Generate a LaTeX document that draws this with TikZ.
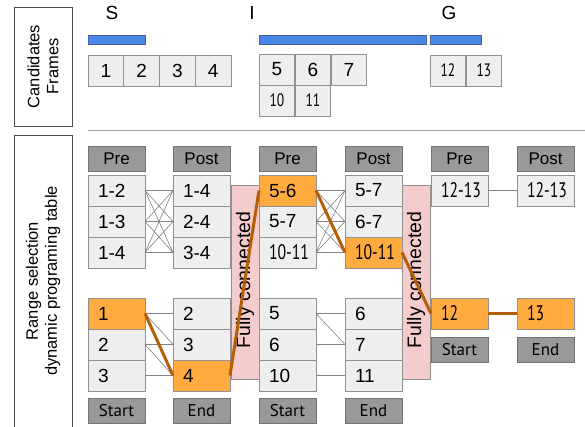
\documentclass[tikz,border=0pt]{standalone}
\usepackage{fontspec}
\usepackage{graphicx}
\setmainfont{Liberation Sans}
\newfontfamily\ptfont{PT Sans}
\newcommand\fsz[1]{\fontsize{#1}{#1}\selectfont}
\newcommand\cnd[1]{{\ptfont\fsz{21}\scalebox{0.75}[1]{#1}}}
\newcommand\cndsm[1]{{\ptfont\fsz{18}\scalebox{0.75}[1]{#1}}}
\definecolor{cellfill}{RGB}{238,238,238}
\definecolor{cellline}{RGB}{145,145,145}
\definecolor{hdrfill}{RGB}{153,153,153}
\definecolor{hdrline}{RGB}{115,115,115}
\definecolor{orfill}{RGB}{255,171,64}
\definecolor{orline}{RGB}{180,95,6}
\definecolor{pinkfill}{RGB}{244,204,204}
\definecolor{bluefill}{RGB}{74,134,232}
\definecolor{blueline}{RGB}{70,100,160}
\definecolor{linkgray}{RGB}{130,130,130}
\definecolor{sepgray}{RGB}{160,160,160}
\tikzset{
 base/.style={draw=cellline, line width=0.8pt, inner sep=0pt, outer sep=0pt, anchor=north west},
 cell/.style={base, fill=cellfill, minimum height=31pt, text width=37pt, inner xsep=10pt, align=left, font=\fsz{19}},
 ocell/.style={cell, fill=orfill},
 hdr/.style={base, draw=hdrline, fill=hdrfill, minimum width=57pt, minimum height=25pt, font=\fsz{17}},
 foot/.style={hdr, font=\ptfont\fsz{17}},
 frm/.style={base, fill=cellfill, minimum width=35.75pt, minimum height=31pt, font=\fsz{19}},
 fcbox/.style={base, fill=pinkfill, minimum width=28pt, minimum height=194pt},
 fctext/.style={rotate=90, font=\fsz{19.5}, inner sep=0pt},
 sidebox/.style={draw=black!70, line width=0.8pt},
 sidetext/.style={rotate=90, align=center, font=\fontsize{16.5}{19}\selectfont, inner sep=0pt},
 bar/.style={fill=bluefill, draw=blueline, line width=0.6pt},
 link/.style={draw=linkgray, line width=0.6pt},
 best/.style={draw=orline, line width=3pt},
 grp/.style={font=\fsz{19}, inner sep=0pt},
}
\begin{document}
\begin{tikzpicture}[x=1pt,y=-1pt]
\useasboundingbox (0,0) rectangle (585,427);
% side labels
\draw[sidebox] (14,7) rectangle (72,126);
\node[sidetext] (candl) at (43,66.5) {Candidates\\Frames};
\draw[sidebox] (14,135) rectangle (72,440);
\node[sidetext] (rangel) at (43,281) {Range selection\\dynamic programing table};
\draw[sepgray, line width=1pt] (88,131) -- (585,131);
% group letters
\node[grp] (S) at (112,13) {S};
\node[grp] (I) at (252,13) {I};
\node[grp] (G) at (449,13) {G};
\draw[bar] (88,35) rectangle (145,44);
\draw[bar] (259,35) rectangle (426,44);
\draw[bar] (430,35) rectangle (481,44);
% frames
\node[frm] (fr1) at (88,55) {1};
\node[frm] (fr2) at (123.75,55) {2};
\node[frm] (fr3) at (159.5,55) {3};
\node[frm] (fr4) at (195.25,55) {4};
\node[frm] (fr5) at (259,54) {5};
\node[frm] (fr6) at (295,54) {6};
\node[frm] (fr7) at (331,54) {7};
\node[frm] (fr10) at (259,85) {\cndsm{10}};
\node[frm] (fr11) at (295,85) {\cndsm{11}};
\node[frm] (fr12) at (430,55) {\cndsm{12}};
\node[frm] (fr13) at (466,55) {\cndsm{13}};
% headers
\node[hdr] (h1) at (88,146) {Pre};
\node[hdr] (h2) at (173,146) {Post};
\node[hdr] (h3) at (259,146) {Pre};
\node[hdr] (h4) at (345,146) {Post};
\node[hdr] (h5) at (431,146) {Pre};
\node[hdr] (h6) at (517,146) {Post};
% fully connected boxes
\node[fcbox] (fc1) at (231,185) {};
\node[fctext] (fc1t) at (245,280) {Fully connected};
\node[fcbox] (fc2) at (402,185) {};
\node[fctext] (fc2t) at (416,280) {Fully connected};
% top cells
\node[cell] (t11) at (88,175) {1-2};
\node[cell] (t12) at (88,206) {1-3};
\node[cell] (t13) at (88,237) {1-4};
\node[cell] (t21) at (173,175) {1-4};
\node[cell] (t22) at (173,206) {2-4};
\node[cell] (t23) at (173,237) {3-4};
\node[ocell] (t31) at (259,175) {5-6};
\node[cell] (t32) at (259,206) {5-7};
\node[cell] (t33) at (259,237) {\cnd{10-11}};
\node[cell] (t41) at (345,175) {5-7};
\node[cell] (t42) at (345,206) {6-7};
\node[ocell] (t43) at (345,237) {\cnd{10-11}};
\node[cell] (t51) at (431,175) {\cnd{12-13}};
\node[cell] (t61) at (517,175) {\cnd{12-13}};
% bottom cells
\node[ocell] (b11) at (88,298) {1};
\node[cell] (b12) at (88,329) {2};
\node[cell] (b13) at (88,360) {3};
\node[cell] (b21) at (173,298) {2};
\node[cell] (b22) at (173,329) {3};
\node[ocell] (b23) at (173,360) {4};
\node[cell] (b31) at (259,298) {5};
\node[cell] (b32) at (259,329) {6};
\node[cell] (b33) at (259,360) {10};
\node[cell] (b41) at (345,298) {6};
\node[cell] (b42) at (345,329) {7};
\node[cell] (b43) at (345,360) {11};
\node[ocell] (b51) at (431,298) {\cnd{12}};
\node[ocell] (b61) at (517,298) {\cnd{13}};
% footers
\node[foot] (f1) at (88,398) {Start};
\node[foot] (f2) at (173,398) {End};
\node[foot] (f3) at (259,398) {Start};
\node[foot] (f4) at (345,398) {End};
\node[foot] (f5) at (431,337) {Start};
\node[foot] (f6) at (517,337) {End};
% links
\foreach \i in {1,2,3}{\foreach \j in {1,2,3}{
  \draw[link] (t1\i.east) -- (t2\j.west);
  \draw[link] (t3\i.east) -- (t4\j.west);
}}
\draw[link] (t51.east) -- (t61.west);
\draw[link] (b11.east) -- (b21.west);
\draw[link] (b11.east) -- (b22.west);
\draw[link] (b11.east) -- (b23.west);
\draw[link] (b12.east) -- (b22.west);
\draw[link] (b12.east) -- (b23.west);
\draw[link] (b13.east) -- (b23.west);
\draw[link] (b31.east) -- (b41.west);
\draw[link] (b31.east) -- (b42.west);
\draw[link] (b32.east) -- (b42.west);
\draw[link] (b33.east) -- (b43.west);
% best path
\draw[best] (b11.east) -- (b23.west);
\draw[best] (b23.east) -- (t31.west);
\draw[best] (t31.east) -- (t43.west);
\draw[best] (t43.east) -- (b51.west);
\draw[best] (b51.east) -- (b61.west);
\end{tikzpicture}
\end{document}
